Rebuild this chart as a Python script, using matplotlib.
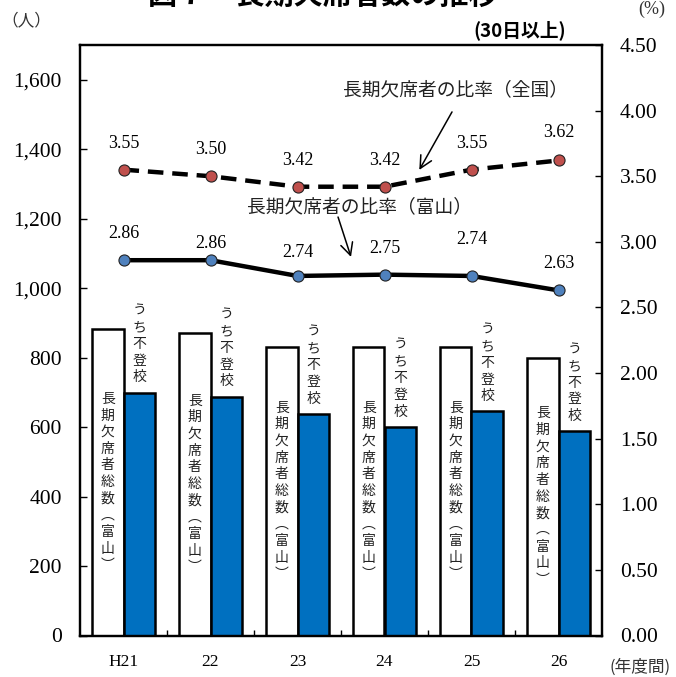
import matplotlib
matplotlib.use("Agg")
import matplotlib.pyplot as plt
import numpy as np

plt.rcParams['font.family'] = ['Noto Sans CJK JP', 'DejaVu Sans']

# 年度別データ
years = ['H21', '22', '23', '24', '25', '26']
total_toyama = [883, 872, 832, 832, 832, 800]      # 長期欠席者総数（富山）
futoko_toyama = [699, 688, 638, 601, 645, 588]     # うち不登校
rate_national = [3.55, 3.50, 3.42, 3.42, 3.55, 3.62]
rate_toyama = [2.86, 2.86, 2.74, 2.75, 2.74, 2.63]

# 数値ラベルのずらし量（ポイント）
off_national = [19, 19, 19, 19, 19, 20]
off_toyama = [19, 12, 17, 19, 26, 19]

SERIF = ['Liberation Serif', 'DejaVu Serif']
BLUE = '#0070C0'

fig = plt.figure(figsize=(6.76, 6.77), dpi=100)
ax = fig.add_axes([80 / 676, 41.5 / 677, 522 / 676, 590.5 / 677])
x = np.arange(len(years))
w = 0.36

ax.bar(x - 0.18, total_toyama, w, color='white', edgecolor='black', linewidth=1.8, zorder=2)
ax.bar(x + 0.18, futoko_toyama, w, color=BLUE, edgecolor='black', linewidth=1.8, zorder=2)

ax.set_xlim(-0.5, len(years) - 0.5)
ax.set_ylim(0, 1700)
ax.set_yticks(np.arange(0, 1601, 200))
ax.set_yticklabels([f'{v:,}' for v in range(0, 1601, 200)], family=SERIF, fontsize=15.5)
ax.set_xticks(x)
ax.set_xticklabels(years, family=SERIF, fontsize=12.5)
ax.set_xticks(np.arange(0.5, len(years) - 1, 1), minor=True)
ax.tick_params(axis='x', which='major', length=0, pad=13)
ax.tick_params(axis='x', which='minor', direction='in', length=4, width=1)
ax.tick_params(axis='y', direction='in', length=5, width=1, pad=13)
for s in ax.spines.values():
    s.set_linewidth(1.6)


def vtext(axis, xc, yc, chars, pitch, size, anchor='center'):
    # 縦書き：1文字ずつ積む
    n = len(chars)
    for k, ch in enumerate(chars):
        if anchor == 'center':
            dy = ((n - 1) / 2 - k) * pitch
        else:
            dy = (n - 1 - k) * pitch + 11
        axis.annotate(ch, (xc, yc), xytext=(0, dy), textcoords='offset points',
                      ha='center', va='center', fontsize=size, color='#222222', zorder=3)


label_total = list('長期欠席者総数') + ['︵', '富', '山', '︶']
for i in range(len(years)):
    vtext(ax, x[i] - 0.18, total_toyama[i] / 2, label_total, 12, 10)
    vtext(ax, x[i] + 0.18, futoko_toyama[i], list('うち不登校'), 12, 10, anchor='top')

# 比率（右軸）
ax2 = ax.twinx()
ax2.set_ylim(0, 4.5)
ax2.set_yticks(np.arange(0, 4.51, 0.5))
ax2.set_yticklabels([f'{v:.2f}' for v in np.arange(0, 4.51, 0.5)], family=SERIF, fontsize=15.5)
ax2.tick_params(axis='y', direction='in', length=5, width=1, pad=13)
for s in ax2.spines.values():
    s.set_linewidth(1.6)

ax2.plot(x, rate_national, color='black', lw=3.2, ls=(0, (3.5, 2)), marker='o', ms=8,
         mfc='#C0504D', mec='#222222', mew=0.8, zorder=4)
ax2.plot(x, rate_toyama, color='black', lw=3.2, marker='o', ms=8,
         mfc='#4F81BD', mec='#222222', mew=0.8, zorder=4)

for i in range(len(years)):
    ax2.annotate(f'{rate_national[i]:.2f}', (x[i], rate_national[i]), xytext=(0, off_national[i]),
                 textcoords='offset points', ha='center', va='center', family=SERIF, fontsize=13)
    ax2.annotate(f'{rate_toyama[i]:.2f}', (x[i], rate_toyama[i]), xytext=(0, off_toyama[i]),
                 textcoords='offset points', ha='center', va='center', family=SERIF, fontsize=13)

ax2.text(3.82, 4.157, '長期欠席者の比率（全国）', ha='center', va='center', fontsize=13.5, color='#222222')
ax2.annotate('', xy=(3.40, 3.548), xytext=(3.776, 3.99),
             arrowprops=dict(arrowstyle='->', lw=1.1, color='black', mutation_scale=22,
                             shrinkA=0, shrinkB=0))
ax2.text(2.707, 3.266, '長期欠席者の比率（富山）', ha='center', va='center', fontsize=13.5, color='#222222')
ax2.annotate('', xy=(2.615, 2.885), xytext=(2.466, 3.189),
             arrowprops=dict(arrowstyle='->', lw=1.1, color='black', mutation_scale=22,
                             shrinkA=0, shrinkB=0))

# 見出し・単位
fig.text(323 / 676, 1 + 5 / 677, '図７　長期欠席者数の推移', ha='center', va='center',
         fontsize=21, fontweight='bold')
fig.text(520 / 676, 1 - 30 / 677, '(30日以上)', ha='center', va='center',
         fontsize=13.5, fontweight='bold')
fig.text(26 / 676, 1 - 21 / 677, '（人）', ha='center', va='center', fontsize=12, color='#333333')
fig.text(652 / 676, 1 - 9 / 677, '(%)', ha='center', va='center', family=SERIF, fontsize=13,
         color='#333333')
fig.text(640 / 676, 1 - 667 / 677, '(年度間)', ha='center', va='center', fontsize=12, color='#333333')

fig.savefig('out.png', dpi=100)
